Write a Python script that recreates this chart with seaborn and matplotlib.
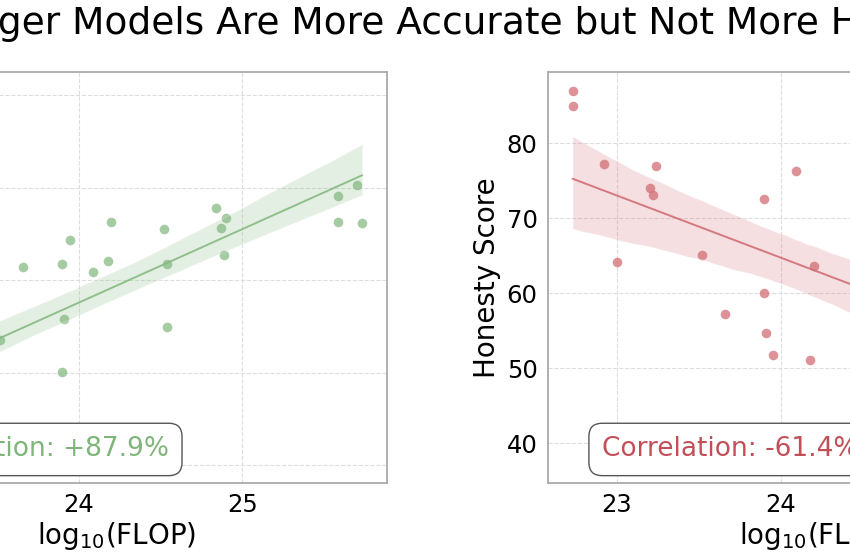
import pandas as pd
import matplotlib
matplotlib.use("Agg")
import matplotlib.pyplot as plt
import seaborn as sns

# --- data: one entry per model (log10 of training FLOP) ---
flop = [22.73, 22.73, 22.92, 23.00, 23.20, 23.22, 23.24, 23.52, 23.66,
        23.90, 23.90, 23.91, 23.95, 24.09, 24.18, 24.20, 24.52, 24.54,
        24.54, 24.84, 24.87, 24.89, 24.90, 25.58, 25.58, 25.70, 25.73]
accuracy = [33.3, 34.3, 36.9, 37.5, 40.1, 40.3, 40.9, 43.6, 51.4,
            51.8, 40.1, 45.8, 54.4, 50.9, 52.1, 56.3, 55.5, 51.8,
            45.0, 57.8, 55.6, 52.7, 56.7, 59.1, 56.3, 60.3, 56.2]
honesty = [87.0, 85.0, 77.3, 64.2, 74.0, 73.1, 77.0, 65.1, 57.3,
           72.6, 60.0, 54.7, 51.8, 76.3, 51.1, 63.6, 63.4, 48.3,
           67.3, 46.8, 66.5, 48.4, 59.3, 65.7, 45.7, 60.7, 52.4]
corr_labels = ["Correlation: +87.9%", "Correlation: -61.4%"]

df = pd.DataFrame({"flop": flop, "accuracy": accuracy, "honesty": honesty})

sns.set_style("whitegrid")
plt.rcParams["font.family"] = ["DejaVu Sans"]

GREEN = "#86ba82"
GREEN_TXT = "#7fb47a"
RED = "#d26e74"
RED_TXT = "#c24f58"

fig = plt.figure(figsize=(8.5, 5.6), dpi=100)
# the figure is a crop of a wider two-panel layout
ax_l = fig.add_axes([-0.1815, 0.1375, 0.6365, 0.7339])
ax_r = fig.add_axes([0.6447, 0.1375, 0.6365, 0.7339])

panels = [
    (ax_l, "accuracy", GREEN, GREEN_TXT, corr_labels[0], (28.1, 72.5), [30, 40, 50, 60, 70], ""),
    (ax_r, "honesty", RED, RED_TXT, corr_labels[1], (34.7, 89.5), [40, 50, 60, 70, 80], "Honesty Score"),
]

for ax, col, c, ctxt, label, ylim, yticks, ylab in panels:
    sns.regplot(data=df, x="flop", y=col, ax=ax, color=c, seed=0,
                scatter_kws={"s": 48, "alpha": 0.75, "linewidths": 0},
                line_kws={"lw": 1.4, "alpha": 0.9})
    ax.collections[-1].set_alpha(0.22)

    ax.set_xlim(22.58, 25.88)
    ax.set_ylim(*ylim)
    ax.set_xticks([23, 24, 25])
    ax.set_yticks(yticks)
    ax.grid(True, linestyle="--", color="#dddddd", linewidth=0.8)
    for s in ax.spines.values():
        s.set_color("#aaaaaa")
        s.set_linewidth(1.3)
    ax.tick_params(axis="both", labelsize=17.5, labelcolor="black", length=4,
                   color="#888888", direction="out")
    ax.set_xlabel(r"log$_{10}$(FLOP)", fontsize=20, color="black", labelpad=2)
    ax.set_ylabel(ylab, fontsize=20, color="black", labelpad=4)

    ax.text(0.1, 0.05, label, transform=ax.transAxes, fontsize=19, color=ctxt,
            ha="left", va="bottom",
            bbox=dict(boxstyle="round,pad=0.5", facecolor="white",
                      edgecolor="#555555", linewidth=1.0))

fig.text(0.531, 0.958, "Larger Models Are More Accurate but Not More Honest",
         ha="center", va="center", fontsize=27, color="black")

fig.savefig("out.png", dpi=100)
